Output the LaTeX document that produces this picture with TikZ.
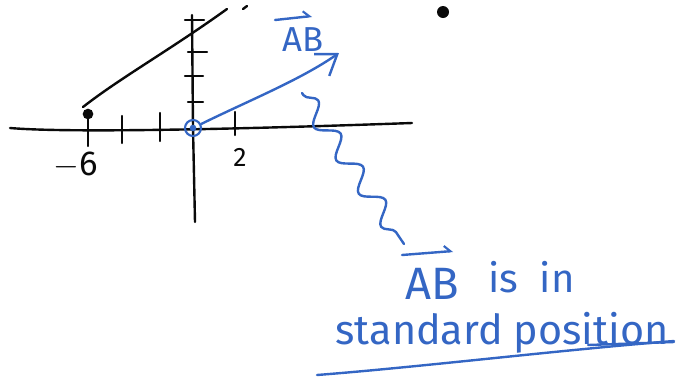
\documentclass[tikz,border=0pt]{standalone}
\usepackage{fontspec}
\setmainfont{Fira Sans}
\usetikzlibrary{arrows.meta,positioning,decorations.pathmorphing}
\definecolor{INKblue}{RGB}{52,102,196}
\definecolor{INKblack}{RGB}{10,10,10}
\tikzset{
  axis/.style={draw=INKblack,line width=1.8pt,line cap=round},
  tickmark/.style={draw=INKblack,line width=1.8pt,line cap=round},
  ink/.style={draw=INKblue,line width=1.8pt,line cap=round,line join=round},
  vec/.style={ink,-{Straight Barb[length=5mm,width=7mm,line width=1.8pt]}},
  hook/.style={ink,-{Straight Barb[left,length=1.6mm,width=3mm,line width=1.6pt]}},
  squiggle/.style={ink,decorate,decoration={snake,segment length=30pt,amplitude=7pt,pre length=2pt,post length=8pt}},
  hand/.style={text=INKblue,inner sep=0pt,font=\fontsize{30}{32}\selectfont},
  num/.style={text=INKblack,inner sep=1pt,font=\fontsize{26}{28}\selectfont},
  dot/.style={circle,fill=INKblack,inner sep=0pt,minimum size=8pt}
}
\begin{document}
\begin{tikzpicture}[x=0.75pt,y=-0.75pt]
  \useasboundingbox (0,0) rectangle (678,383);
  % axes and tick marks
  \coordinate (O) at (193,128);
  \draw[axis] (10,128) .. controls (80,134) and (300,127) .. (412,123);
  \draw[axis] (192,15) -- (O) -- (195,222);
  \foreach \x/\a/\b in {88/118/146,122/116/143,160/113/141,235/112/135}
    \draw[tickmark] (\x,\a) -- (\x,\b);
  \foreach \y/\a/\b in {20/185/204,52/188/207,76/185/203,102/188/203}
    \draw[tickmark] (\a,\y) -- (\b,\y);
  \node[num] (m6) at (76,165) {$-$6};
  \node[num,font=\fontsize{20}{22}\selectfont] (two) at (240,157) {2};
  % the line and the two points
  \node[dot] (P) at (88,114) {};
  \node[dot,minimum size=9pt] (Q) at (443,12) {};
  \draw[axis] (83,107) .. controls (120,78) and (170,50) .. (227,9);
  \draw[axis] (243,9) -- (247,6);
  % vector AB from the origin
  \node[circle,draw=INKblue,line width=1.6pt,inner sep=0pt,minimum size=12pt] (orig) at (O) {};
  \fill[INKblue] (O) circle (2.5pt);
  \coordinate (tip) at (339,53);
  \draw[vec] (orig) .. controls (250,100) and (300,80) .. (tip);
  \node[hand,font=\fontsize{26}{28}\selectfont] (topAB) at (303,40) {AB};
  \draw[hook] (275,20) -- (312,16);
  % squiggle down to the remark
  \coordinate (sqStart) at (302,93);
  \coordinate (sqEnd) at (404,244);
  \draw[squiggle] (sqStart) -- (sqEnd);
  \node[hand,font=\fontsize{34}{36}\selectfont] (vecAB) at (432,284) {AB};
  \draw[hook] (402,255) -- (453,251);
  \node[hand,right=22pt of vecAB.east,anchor=west,yshift=5pt] (isin) {is\hspace{16pt}in};
  \node[hand,font=\fontsize{31}{33}\selectfont] (std) at (502,333) {standard position};
  \draw[ink] (317,375) .. controls (420,367) and (560,350) .. (674,341);
  \draw[ink] (588,345) -- (674,342);
\end{tikzpicture}
\end{document}
